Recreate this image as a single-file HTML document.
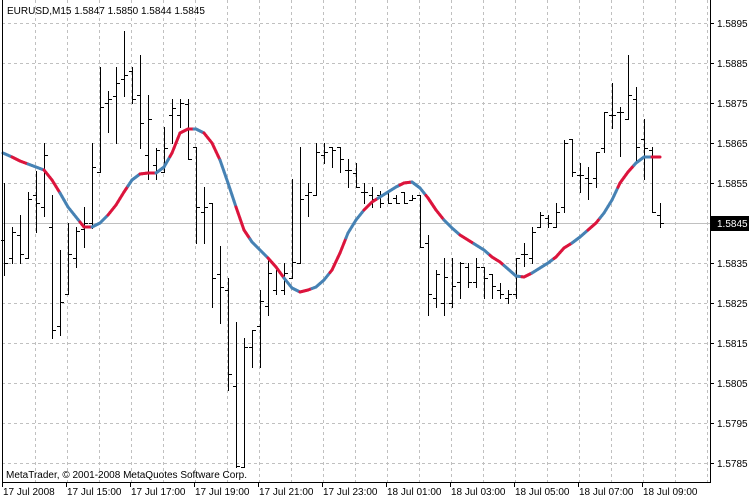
<!DOCTYPE html>
<html><head><meta charset="utf-8"><style>
html,body{margin:0;padding:0;background:#fff;}
svg{display:block;font-family:"Liberation Sans",sans-serif;font-size:10px;}
</style></head><body>
<svg id="s" width="750" height="500" xmlns="http://www.w3.org/2000/svg"></svg>
<script>
var s=document.getElementById('s'),h='';
h+='<rect width="750" height="500" fill="#fff"/>';
// grid
for(var x=35;x<710;x+=32)h+='<line x1="'+(x+.5)+'" y1="0" x2="'+(x+.5)+'" y2="482" stroke="#c0c0c0" stroke-dasharray="3,3"/>';
for(var y=23;y<=463;y+=40){if(y!=223)h+='<line x1="2" y1="'+(y+.5)+'" x2="710" y2="'+(y+.5)+'" stroke="#c0c0c0" stroke-dasharray="3,3"/>';}
h+='<line x1="2" y1="223.5" x2="710" y2="223.5" stroke="#c0c0c0"/>';
// bars [H,L,O,C]
var B=[[183,275,240,263],[227,263,258,232],[215,263,235,254],[192,258,258,199],[171,232,195,203],[143,216,207,155],[195,338,227,330],[250,335,326,302],[223,294,294,254],[227,267,258,231],[207,247,229,223],[143,228,223,167],[67,172,172,107],[91,132,103,99],[67,143,96,83],[31,96,79,75],[67,103,71,99],[55,148,95,123],[95,179,155,119],[148,179,165,150],[127,172,172,148],[99,143,115,108],[99,127,115,103],[99,159,104,159],[147,243,147,207],[187,243,212,207],[203,307,203,278],[246,323,274,287],[278,390,290,374],[322,467,386,466],[338,467,467,347],[330,367,347,330],[290,367,326,301],[258,315,306,273],[270,294,290,270],[263,294,290,273],[179,278,278,262],[147,263,263,199],[183,216,195,192],[143,195,195,152],[143,163,155,152],[147,167,147,150],[147,172,147,159],[159,187,170,170],[163,187,173,187],[183,203,192,192],[187,207,195,199],[191,207,195,203],[192,203,192,203],[195,203,198,203],[192,203,192,203],[195,200,200,198],[195,247,195,247],[235,315,243,294],[270,307,298,274],[258,315,303,277],[258,307,303,286],[262,298,282,263],[263,287,267,282],[258,287,282,267],[267,298,267,278],[274,298,274,286],[283,298,290,294],[290,303,298,294],[258,298,294,258],[243,266,254,254],[227,263,258,232],[212,227,227,215],[215,227,218,223],[203,227,227,212],[140,212,207,143],[139,176,139,172],[163,192,175,175],[167,199,178,183],[152,187,178,152],[112,152,148,112],[83,128,115,115],[107,156,112,112],[55,119,119,95],[87,160,99,147],[119,179,139,148],[147,212,150,212],[203,227,215,223]];
for(var i=0;i<B.length;i++){var b=B[i],X=4.5+8*i;
h+='<line x1="'+X+'" y1="'+b[0]+'" x2="'+X+'" y2="'+(b[1]+1)+'" stroke="#000"/>';
h+='<line x1="'+(X-3.5)+'" y1="'+(b[2]+.5)+'" x2="'+X+'" y2="'+(b[2]+.5)+'" stroke="#000"/>';
h+='<line x1="'+X+'" y1="'+(b[3]+.5)+'" x2="'+(X+3.5)+'" y2="'+(b[3]+.5)+'" stroke="#000"/>';}
// MA
var P=[[3,153],[12,157],[20,161],[28,164],[36,167],[44,170],[52,180],[60,193],[68,207],[76,217],[84,227],[92,227],[100,223],[108,215],[116,205],[124,192],[132,180],[140,174],[148,173],[156,173],[164,167],[172,153],[180,133],[188,129],[196,129],[204,133],[212,143],[220,160],[228,183],[236,207],[244,230],[252,242],[260,250],[268,258],[276,267],[284,278],[292,288],[300,292],[308,290],[316,287],[324,280],[332,270],[340,253],[348,233],[356,220],[364,210],[372,202],[380,197],[388,192],[396,187],[404,183],[412,182],[420,188],[428,198],[436,210],[444,220],[452,228],[460,235],[468,240],[476,245],[484,250],[492,257],[500,262],[508,269],[516,276],[524,277],[532,273],[540,268],[548,263],[556,257],[564,248],[572,243],[580,237],[588,230],[596,223],[604,213],[612,200],[620,183],[628,172],[636,163],[644,157],[652,157],[660,157]];
var R=[[12,28],[44,60],[80,92],[108,128],[140,156],[170,195],[205,220],[237,250],[268,285],[300,313],[330,347],[365,378],[400,412],[427,445],[460,475],[490,505],[522,533],[555,572],[588,600],[618,635],[652,661]];
function red(x){for(var k=0;k<R.length;k++)if(x>=R[k][0]&&x<R[k][1])return true;return false;}
for(var i=0;i<P.length-1;i++){var a=P[i],c=P[i+1];for(var t=0;t<4;t++){var x1=a[0]+(c[0]-a[0])*t/4,x2=a[0]+(c[0]-a[0])*(t+1)/4,y1=a[1]+(c[1]-a[1])*t/4,y2=a[1]+(c[1]-a[1])*(t+1)/4;
h+='<line x1="'+x1+'" y1="'+y1+'" x2="'+x2+'" y2="'+y2+'" stroke="'+(red((x1+x2)/2)?'#dc143c':'#4682b4')+'" stroke-width="3" stroke-linecap="round"/>';}}
// axes
h+='<line x1="2.5" y1="0" x2="2.5" y2="483" stroke="#000"/>';
h+='<line x1="710.5" y1="0" x2="710.5" y2="483" stroke="#000"/>';
h+='<line x1="2" y1="482.5" x2="711" y2="482.5" stroke="#000"/>';
for(var k=0;k<=11;k++){var v=(1.5895-k*0.001).toFixed(4),y=23+40*k;
h+='<line x1="710" y1="'+(y+.5)+'" x2="714" y2="'+(y+.5)+'" stroke="#000"/>';
if(k!=5)h+='<text x="717" y="'+(y+4)+'" fill="#000">'+v+'</text>';}
h+='<rect x="711" y="216" width="38" height="15" fill="#000"/><text x="717" y="227" fill="#fff">1.5845</text>';
var L=['17 Jul 2008','17 Jul 15:00','17 Jul 17:00','17 Jul 19:00','17 Jul 21:00','17 Jul 23:00','18 Jul 01:00','18 Jul 03:00','18 Jul 05:00','18 Jul 07:00','18 Jul 09:00'];
for(var k=0;k<L.length;k++){var x=2+64*k;h+='<line x1="'+(x+.5)+'" y1="482" x2="'+(x+.5)+'" y2="487" stroke="#000"/><text x="'+(x+1)+'" y="495" fill="#000">'+L[k]+'</text>';}
h+='<text x="7" y="14" fill="#000">EURUSD,M15  1.5847 1.5850 1.5844 1.5845</text>';
h+='<text x="6" y="478" fill="#000">MetaTrader, © 2001-2008 MetaQuotes Software Corp.</text>';
s.innerHTML=h;
</script>
</body></html>
